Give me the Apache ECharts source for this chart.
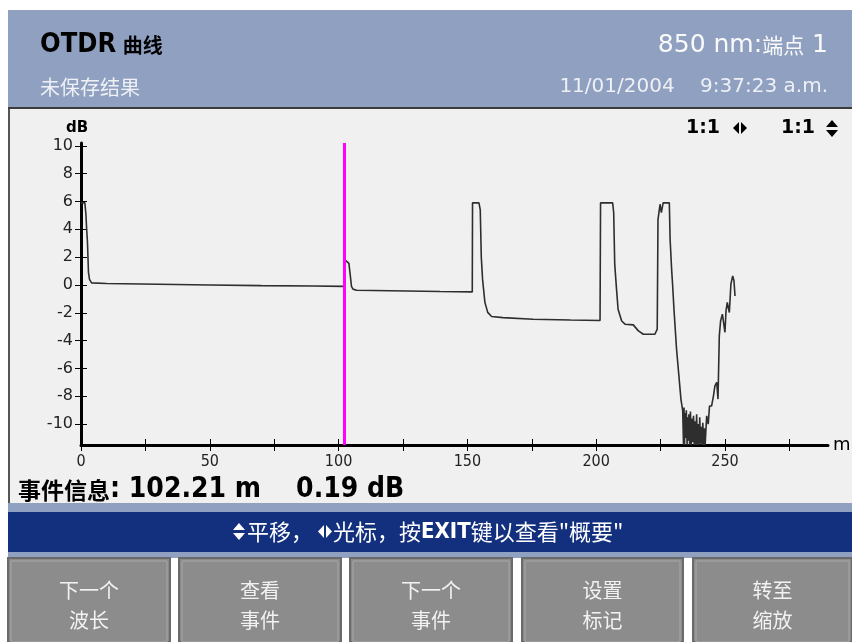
<!DOCTYPE html>
<html><head><meta charset="utf-8">
<script src="https://cdn.jsdelivr.net/npm/echarts@6/dist/echarts.min.js"></script>
<style>html,body{margin:0;padding:0;background:#fff}#c{width:852px;height:642px}</style>
</head><body><div id="c"></div>
<script>
// ---- data ----
const traceDist = [0,1.5,1.9,2.2,2.5,2.9,3.3,4.1,10,30,50,70,90,102.1,
  102.3,102.8,103.3,104.0,104.6,105.0,105.6,107,120,139.4,151.9,
  152.0,154.5,155.0,155.4,155.9,156.8,157.9,159.4,163.8,175.5,190,201.5,
  201.7,206.4,206.8,207.2,207.9,208.5,209.9,211.2,214.4,216.4,218.3,222.8,223.7,
  224.0,224.8,225.3,225.6,226.0,228.4,228.7,229.3,229.7,230.2,231.2,232.1,232.9,233.6,
  233.9,234.1,234.3,234.5,234.8,235.0,235.3,235.5,235.8,236.0,236.3,236.6,236.9,237.2,
  237.5,237.8,238.1,238.4,238.7,239.0,239.3,239.6,239.9,240.2,240.5,240.8,241.1,241.4,
  241.7,242.0,242.3,242.9,243.5,244.0,244.8,245.5,246.1,246.8,247.3,247.8,248.3,249.0,
  249.6,250.0,250.4,250.9,251.7,252.3,253.0,253.5,253.9];
const traceDb = [5.9,5.9,5.1,4.0,3.1,0.9,0.4,0.15,0.1,0.05,0.0,-0.05,-0.08,-0.1,
  1.6,1.75,1.75,1.55,0.6,-0.1,-0.3,-0.38,-0.42,-0.47,-0.5,
  5.9,5.9,5.4,2.0,0.4,-1.25,-1.97,-2.27,-2.35,-2.46,-2.52,-2.55,
  5.9,5.9,5.2,1.5,-0.3,-1.75,-2.59,-2.82,-2.87,-3.3,-3.54,-3.54,-3.18,
  4.7,5.8,5.2,5.3,5.9,5.9,3.3,1.1,-0.07,-1.75,-4.6,-6.5,-8.2,-9.05,
  -11.5,-8.8,-11.5,-9.2,-11.0,-9.0,-11.5,-9.5,-11.2,-9.3,-11.5,-9.1,-11.5,-9.6,
  -11.3,-9.4,-11.5,-9.8,-11.5,-9.3,-11.5,-10.0,-11.5,-9.5,-11.4,-10.2,-11.5,-9.9,
  -11.5,-10.3,-11.5,-9.4,-10.0,-8.7,-8.7,-8.0,-7.25,-7.0,-8.2,-3.66,-2.59,-2.1,
  -2.2,-3.4,-1.87,-1.26,-1.98,0.05,0.65,0.3,-0.79];
const eventDist = [102.1, 102.3, 102.8];
const eventDb = [-0.1, 1.6, 1.75];
const markerDist = 102.21;
const yTickValues = [-10,-8,-6,-4,-2,0,2,4,6,8,10];
const xLabelValues = [0,50,100,150,200,250];
const xTickValues = [0,25,50,75,100,125,150,175,200,225,250,275];
const buttonLabels = [['下一个','波长'],['查看','事件'],['下一个','事件'],['设置','标记'],['转至','缩放']];

// ---- layout ----
const CJK = '"Noto Sans CJK SC", sans-serif';
const LAT = '"DejaVu Sans", "Noto Sans CJK SC", sans-serif';
const CON = '"DejaVu Sans Condensed", "DejaVu Sans", "Noto Sans CJK SC", sans-serif';
const chart = echarts.init(document.getElementById('c'), null, {renderer:'canvas'});

const toPairs = (xs, ys) => xs.map((x,i)=>[x, ys[i]]);
const btnX = [[8,170],[179,341],[350,512],[522,683],[693,852]];
const graphics = [
  {type:'rect', z:-10, shape:{x:8,y:10,width:844,height:97}, style:{fill:'#8fa0c0'}},
  {type:'rect', z:-10, shape:{x:8,y:107,width:844,height:2}, style:{fill:'#3c3c3c'}},
  {type:'rect', z:-10, shape:{x:8,y:109,width:844,height:394}, style:{fill:'#f0f0f0'}},
  {type:'rect', z:-10, shape:{x:8,y:109,width:2,height:394}, style:{fill:'#555'}},
  {type:'rect', z:-10, shape:{x:8,y:503,width:844,height:9}, style:{fill:'#8fa0c0'}},
  {type:'rect', z:-10, shape:{x:8,y:512,width:844,height:40}, style:{fill:'#13307f'}},
  {type:'rect', z:-10, shape:{x:8,y:552,width:844,height:6}, style:{fill:'#8fa0c0'}},
  // header texts
  {type:'text', x:40, y:45, style:{text:'{a|OTDR}  {b|曲线}', verticalAlign:'middle', rich:{
    a:{fontFamily:CON, fontWeight:'bold', fontSize:27, fill:'#000'},
    b:{fontFamily:CJK, fontWeight:'bold', fontSize:20, fill:'#000'}}}},
  {type:'text', x:828, y:45, style:{text:'{a|850 nm:}{b|端点}{a| 1}', align:'right', verticalAlign:'middle', rich:{
    a:{fontFamily:LAT, fontSize:25, fill:'#fafafa'},
    b:{fontFamily:CJK, fontSize:21, fill:'#fafafa'}}}},
  {type:'text', x:40, y:87, style:{text:'未保存结果', fontFamily:CJK, fontSize:20, fill:'#eef0f6', verticalAlign:'middle'}},
  {type:'text', x:828, y:87, style:{text:'11/01/2004    9:37:23 a.m.', fontFamily:LAT, fontSize:20, fill:'#eef0f6', align:'right', verticalAlign:'middle'}},
  // chart decorations
  {type:'text', x:77, y:128, style:{text:'dB', fontFamily:LAT, fontWeight:'bold', fontSize:15, fill:'#000', align:'center', verticalAlign:'middle'}},
  {type:'text', x:686, y:128, style:{text:'1:1', fontFamily:LAT, fontWeight:'bold', fontSize:19, fill:'#000', verticalAlign:'middle'}},
  {type:'polygon', shape:{points:[[739,122],[739,134],[733,128]]}, style:{fill:'#000'}},
  {type:'polygon', shape:{points:[[741,122],[741,134],[747,128]]}, style:{fill:'#000'}},
  {type:'text', x:781, y:128, style:{text:'1:1', fontFamily:LAT, fontWeight:'bold', fontSize:19, fill:'#000', verticalAlign:'middle'}},
  {type:'polygon', shape:{points:[[826,127],[838,127],[832,120]]}, style:{fill:'#000'}},
  {type:'polygon', shape:{points:[[826,130],[838,130],[832,137]]}, style:{fill:'#000'}},
  {type:'text', x:18, y:490, style:{text:'{a|事件信息}{b|: 102.21 m    0.19 dB}', verticalAlign:'middle', rich:{
    a:{fontFamily:CJK, fontSize:23, fill:'#000', fontWeight:'bold'},
    b:{fontFamily:CON, fontSize:28, fill:'#000', fontWeight:'bold'}}}},
  // status bar
  {type:'polygon', shape:{points:[[233,530],[245,530],[239,523]]}, style:{fill:'#fff'}},
  {type:'polygon', shape:{points:[[233,533],[245,533],[239,540]]}, style:{fill:'#fff'}},
  {type:'polygon', shape:{points:[[324,525],[324,538],[318,531.5]]}, style:{fill:'#fff'}},
  {type:'polygon', shape:{points:[[326,525],[326,538],[332,531.5]]}, style:{fill:'#fff'}},
  {type:'text', x:247, y:532, style:{text:'平移，', fontFamily:CJK, fontSize:22, fill:'#fff', verticalAlign:'middle'}},
  {type:'text', x:333, y:532, style:{text:'光标，按{e|EXIT}键以查看"概要"', fontFamily:CJK, fontSize:22, fill:'#fff', verticalAlign:'middle',
    rich:{e:{fontFamily:CON, fontWeight:'bold', fontSize:22, fill:'#fff'}}}}
];
buttonLabels.forEach((lab, i) => {
  const [x0, x1] = btnX[i];
  graphics.push({type:'rect', z:-10, shape:{x:x0,y:558,width:x1-x0,height:84}, style:{fill:'#8a8a8a', stroke:'#6a6a6a', lineWidth:2}});
  graphics.push({type:'rect', z:-9, shape:{x:x0+3,y:561,width:x1-x0-6,height:81}, style:{fill:'#8c8c8c', stroke:'#a8a8a8', lineWidth:1}});
  graphics.push({type:'text', x:(x0+x1)/2, y:590, style:{text:lab[0], fontFamily:CJK, fontSize:20, fill:'#f2f2f2', align:'center', verticalAlign:'middle'}});
  graphics.push({type:'text', x:(x0+x1)/2, y:620, style:{text:lab[1], fontFamily:CJK, fontSize:20, fill:'#f2f2f2', align:'center', verticalAlign:'middle'}});
});

const option = {
  backgroundColor:'#ffffff',
  animation:false,
  graphic: graphics,
  grid:{left:81, right:24, top:143, bottom:197},
  xAxis:[{
    type:'value', min:0, max:290,
    axisLine:{show:true, onZero:false, lineStyle:{color:'#000', width:3}},
    axisTick:{show:true, customValues:xTickValues, length:6, lineStyle:{color:'#000', width:1}},
    axisLabel:{customValues:xLabelValues, margin:9, fontFamily:CON, fontSize:16, color:'#222'},
    splitLine:{show:false},
    name:'m', nameLocation:'end', nameGap:5, nameTextStyle:{fontFamily:LAT, fontSize:18, color:'#000'}
  },{
    type:'value', min:0, max:290, position:'bottom',
    axisLine:{show:false, onZero:false},
    axisTick:{show:true, inside:true, customValues:xTickValues, length:6, lineStyle:{color:'#000', width:1}},
    axisLabel:{show:false}, splitLine:{show:false}
  }],
  yAxis:[{
    type:'value', min:-11.5, max:10.2,
    axisLine:{show:true, onZero:false, lineStyle:{color:'#000', width:3}},
    axisTick:{show:true, customValues:yTickValues, length:6, lineStyle:{color:'#000', width:1}},
    axisLabel:{customValues:yTickValues, margin:8, fontFamily:LAT, fontSize:16, color:'#222'},
    splitLine:{show:false}
  },{
    type:'value', min:-11.5, max:10.2, position:'left',
    axisLine:{show:false, onZero:false},
    axisTick:{show:true, inside:true, customValues:yTickValues, length:6, lineStyle:{color:'#000', width:1}},
    axisLabel:{show:false}, splitLine:{show:false}
  }],
  series:[
    {type:'line', data:toPairs(traceDist, traceDb), showSymbol:false, symbol:'none', clip:true,
     lineStyle:{color:'#2e2e2e', width:1.6}, z:3,
     markLine:{silent:true, symbol:'none', label:{show:false}, lineStyle:{color:'#ff00ff', width:3, type:'solid'},
       data:[{xAxis:markerDist}]}},
    {type:'line', data:toPairs(eventDist, eventDb), showSymbol:false, symbol:'none',
     lineStyle:{color:'#00c000', width:1.6}, z:4}
  ]
};
chart.setOption(option);
</script></body></html>
